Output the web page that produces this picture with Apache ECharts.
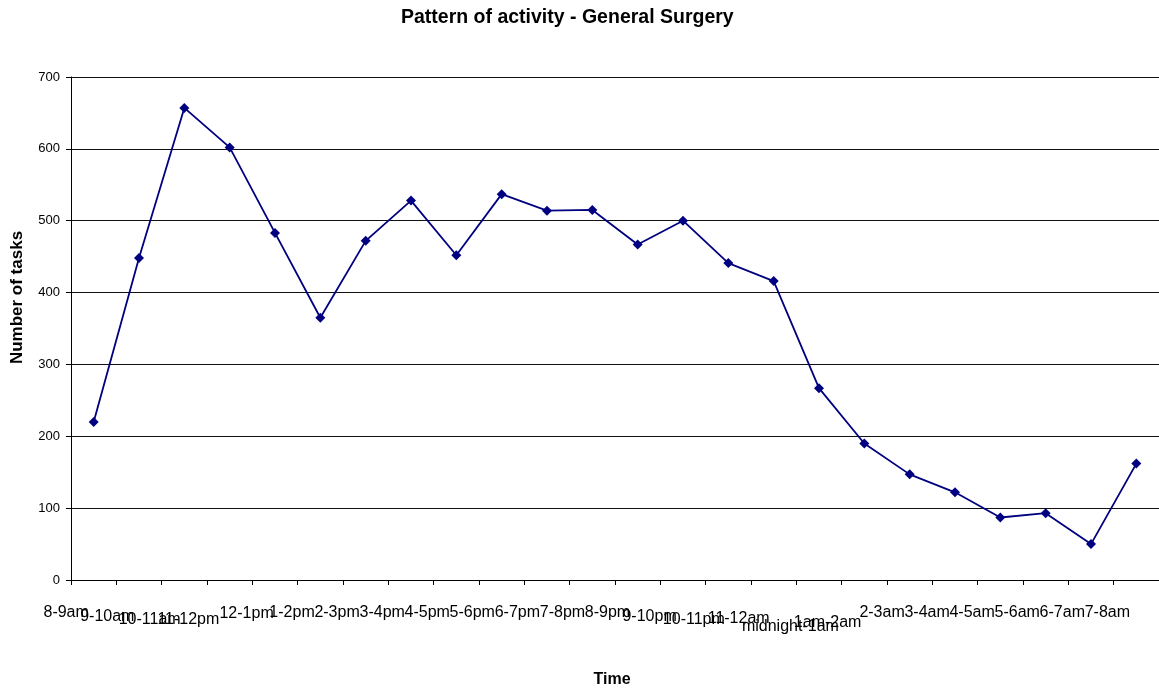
<!DOCTYPE html>
<html>
<head>
<meta charset="utf-8">
<title>Pattern of activity - General Surgery</title>
<script src="https://cdn.jsdelivr.net/npm/echarts@6/dist/echarts.min.js"></script>
<style>
  html, body { margin: 0; padding: 0; background: #fff; }
  #chart { width: 1159px; height: 693px; }
</style>
</head>
<body>
<div id="chart"></div>
<script>
// Hourly time slots across a full 24-hour day
const categories = [
  '8-9am', '9-10am', '10-11am', '11-12pm', '12-1pm', '1-2pm', '2-3pm', '3-4pm',
  '4-5pm', '5-6pm', '6-7pm', '7-8pm', '8-9pm', '9-10pm', '10-11pm', '11-12am',
  'midnight-1am', '1am-2am', '2-3am', '3-4am', '4-5am', '5-6am', '6-7am', '7-8am'
];

// Number of tasks recorded in each slot
const tasks = [
  220, 448, 657, 602, 483, 365, 472, 528, 452, 537, 514, 515,
  467, 500, 441, 416, 267, 190, 147, 122, 87, 93, 50, 162
];

const yTickStep = 100;
const yMax = 700;

// Label nudges (px): horizontal shift from the slot centre and extra drop below the axis
const labelDx = [
  -27.5, -31.7, -34.7, -41.3, -28.4, -28.3, -28.6, -28.8, -29.1, -29.4, -29.6, -29.9,
  -30.2, -33.4, -34.5, -35, -28.6, -36.7, -27.6, -27.9, -28.2, -28.4, -28.7, -29
];
const labelDy = [
  0, 4, 7, 7, 1, 0, 0, 0, 0, 0, 0, 0,
  0, 4, 7, 6, 14, 10, 0, 0, 0, 0, 0, 0
];

const axisData = categories.map((name, i) => {
  const dx = labelDx[i], dy = labelDy[i];
  return {
    value: name,
    textStyle: {
      padding: [dy, dx < 0 ? -2 * dx : 0, 0, dx > 0 ? 2 * dx : 0]
    }
  };
});

const font = 'Arial, "Liberation Sans", Helvetica, sans-serif';

const chart = echarts.init(document.getElementById('chart'), null, { renderer: 'canvas' });
chart.setOption({
  animation: false,
  backgroundColor: '#ffffff',
  textStyle: { fontFamily: font },
  title: {
    text: 'Pattern of activity - General Surgery',
    left: 401,
    top: 8,
    padding: 0,
    textStyle: { fontFamily: font, fontSize: 19.5, fontWeight: 'bold', color: '#000' }
  },
  grid: { left: 71, right: -5, top: 77, bottom: 110, containLabel: false },
  xAxis: {
    type: 'category',
    data: axisData,
    boundaryGap: true,
    name: 'Time',
    nameLocation: 'middle',
    nameGap: 92,
    nameTextStyle: { fontFamily: font, fontSize: 16, fontWeight: 'bold', color: '#000', padding: [0, 6, 0, 0] },
    axisLine: { lineStyle: { color: '#000', width: 1 } },
    axisTick: { show: true, inside: false, length: 5, alignWithLabel: false, interval: 0, lineStyle: { color: '#000' } },
    axisLabel: {
      interval: 0,
      margin: 25,
      hideOverlap: false,
      fontFamily: font,
      fontSize: 16,
      color: '#000'
    },
    splitLine: { show: false }
  },
  yAxis: {
    type: 'value',
    min: 0,
    max: yMax,
    interval: yTickStep,
    name: 'Number of tasks',
    nameLocation: 'middle',
    nameGap: 45,
    nameRotate: 90,
    nameTextStyle: { fontFamily: font, fontSize: 17, fontWeight: 'bold', color: '#000', padding: [0, 0, 0, 62] },
    axisLine: { show: true, lineStyle: { color: '#000', width: 1 } },
    axisTick: { show: true, inside: false, length: 5, lineStyle: { color: '#000' } },
    axisLabel: { margin: 11, fontFamily: font, fontSize: 13, color: '#000' },
    splitLine: { show: true, lineStyle: { color: '#111', width: 1 } }
  },
  series: [{
    name: 'Tasks',
    type: 'line',
    data: tasks,
    symbol: 'diamond',
    symbolSize: 10,
    showSymbol: true,
    lineStyle: { color: '#000080', width: 1.8 },
    itemStyle: { color: '#000080' },
    emphasis: { disabled: true }
  }]
});
</script>
</body>
</html>
